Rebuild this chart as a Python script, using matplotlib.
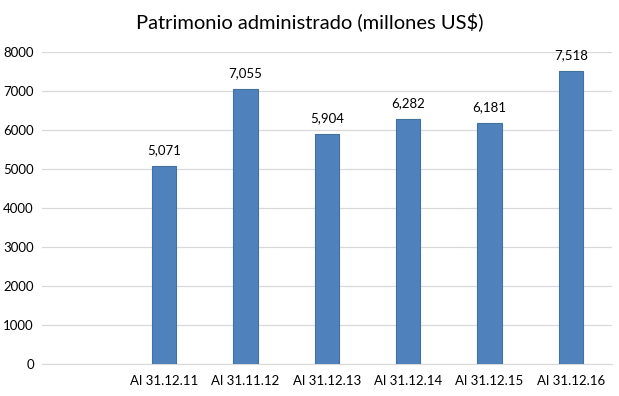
import numpy as np
import matplotlib.pyplot as plt

plt.rcParams['font.family'] = ['Lato', 'DejaVu Sans']

# first slot is an empty category in the original chart
categories = ['', 'Al 31.12.11', 'Al 31.11.12', 'Al 31.12.13',
              'Al 31.12.14', 'Al 31.12.15', 'Al 31.12.16']
values = [np.nan, 5071, 7055, 5904, 6282, 6181, 7518]
yticks = [0, 1000, 2000, 3000, 4000, 5000, 6000, 7000, 8000]

fig = plt.figure(figsize=(6.19, 3.96), dpi=100)
ax = fig.add_axes([0.068, 0.081, 0.92, 0.788])

x = np.arange(len(categories))
bars = ax.bar(x, values, width=0.3, color='#4f81bd', edgecolor='#41719c',
              linewidth=0.8, zorder=3)

for xi, v in zip(x, values):
    if np.isnan(v):
        continue
    ax.annotate('{:,}'.format(int(v)), (xi, v), xytext=(0, 7),
                textcoords='offset points', ha='center', va='bottom',
                fontsize=9.5, color='#000000')

ax.set_xlim(-0.5, len(categories) - 0.5)
ax.set_ylim(0, 8000)
ax.set_yticks(yticks)
ax.set_yticklabels([str(t) for t in yticks])
ax.set_xticks(x)
ax.set_xticklabels(categories)
ax.tick_params(axis='both', length=0, labelsize=9.5, colors='#000000')
ax.tick_params(axis='x', pad=8)
ax.tick_params(axis='y', pad=6)
ax.grid(axis='y', color='#d9d9d9', linewidth=0.9, zorder=0)
for s in ['top', 'right', 'left']:
    ax.spines[s].set_visible(False)
ax.spines['bottom'].set_color('#d9d9d9')

fig.text(0.5, 0.945, 'Patrimonio administrado (millones US$)', ha='center',
         va='center', fontsize=14.5, color='#000000')

fig.savefig('out.png', dpi=100)
